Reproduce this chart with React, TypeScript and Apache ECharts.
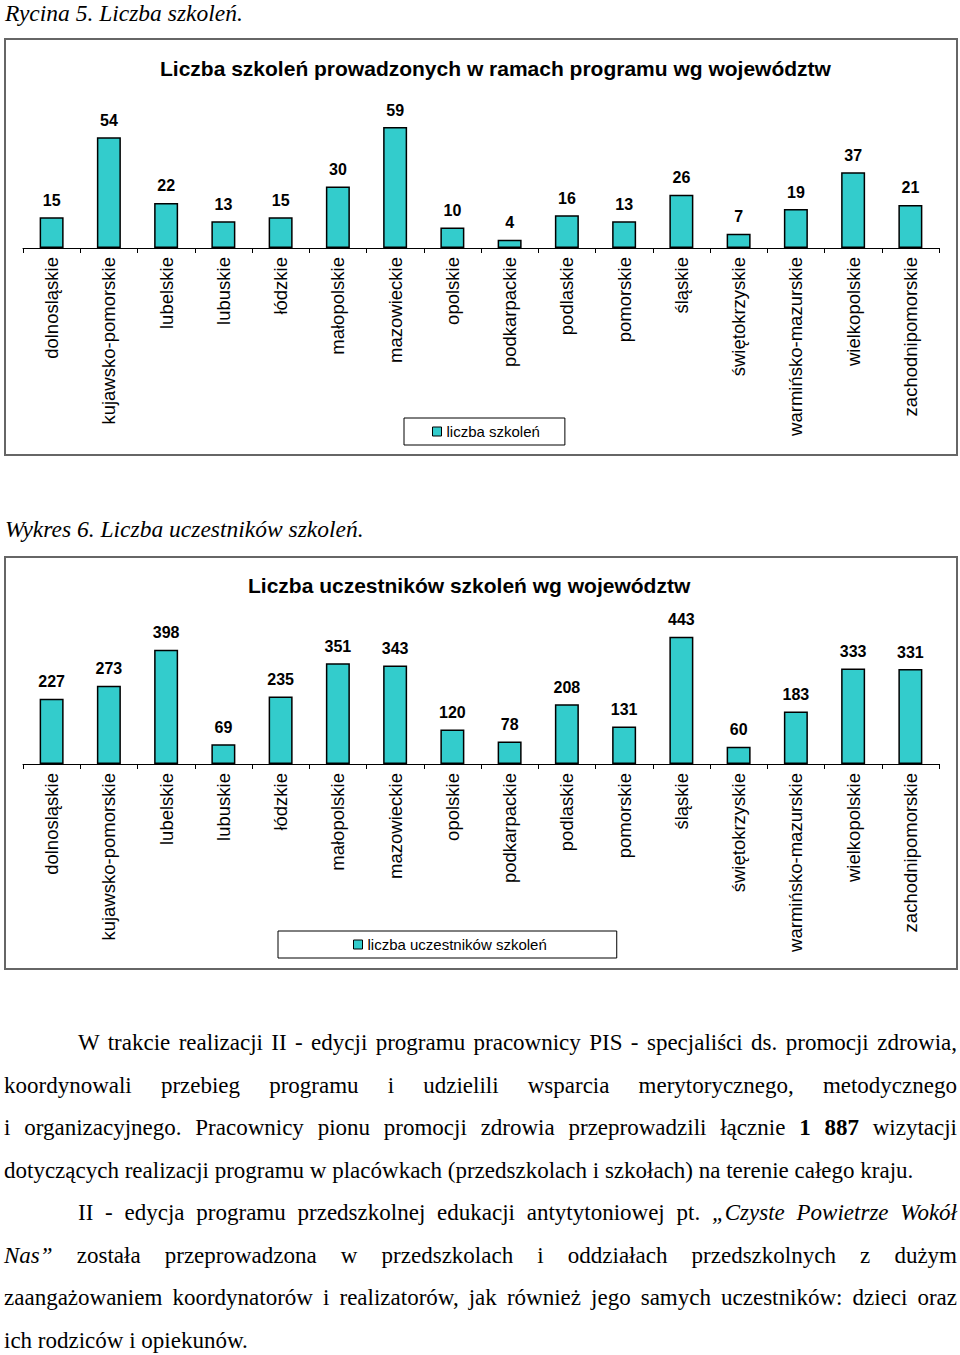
import React, { useEffect, useRef } from "react";
import * as echarts from "echarts";

const regions = [
  "dolnosląskie",
  "kujawsko-pomorskie",
  "lubelskie",
  "lubuskie",
  "łódzkie",
  "małopolskie",
  "mazowieckie",
  "opolskie",
  "podkarpackie",
  "podlaskie",
  "pomorskie",
  "śląskie",
  "świętokrzyskie",
  "warmińsko-mazurskie",
  "wielkopolskie",
  "zachodnipomorskie",
];
const trainings = [15, 54, 22, 13, 15, 30, 59, 10, 4, 16, 13, 26, 7, 19, 37, 21];
const participants = [227, 273, 398, 69, 235, 351, 343, 120, 78, 208, 131, 443, 60, 183, 333, 331];

const title1 = "Liczba szkoleń prowadzonych w ramach programu wg województw";
const title2 = "Liczba uczestników szkoleń wg województw";
const series1 = "liczba szkoleń";
const series2 = "liczba uczestników szkoleń";

const SANS = "'Liberation Sans', Arial, sans-serif";
const SERIF = "'Liberation Serif', 'Times New Roman', serif";

type ChartProps = {
  top: number;
  height: number;
  title: string;
  titleLeft: number;
  titleTop: number;
  name: string;
  data: number[];
  max: number;
  gridTop: number;
  legendLeft: number;
  legendTop: number;
  legendPadding: number[];
};

function BarChart(p: ChartProps) {
  const ref = useRef<HTMLDivElement>(null);
  useEffect(() => {
    if (!ref.current) return;
    const chart = echarts.init(ref.current, undefined, { renderer: "svg" });
    chart.setOption({
      animation: false,
      backgroundColor: "#fff",
      textStyle: { fontFamily: SANS },
      title: {
        text: p.title,
        left: p.titleLeft,
        top: p.titleTop,
        padding: 0,
        textStyle: { fontSize: 21, fontWeight: "bold", color: "#000", fontFamily: SANS },
      },
      legend: {
        data: [p.name],
        left: p.legendLeft,
        top: p.legendTop,
        icon: "rect",
        itemWidth: 9,
        itemHeight: 9,
        padding: p.legendPadding,
        borderColor: "#000",
        borderWidth: 1,
        backgroundColor: "#fff",
        selectedMode: false,
        itemStyle: { borderColor: "#000", borderWidth: 1 },
        textStyle: { fontSize: 15, color: "#000", fontFamily: SANS },
      },
      grid: { left: 20, top: p.gridTop, width: 916, height: 143.5, outerBoundsMode: "none" },
      xAxis: {
        type: "category",
        data: regions,
        boundaryGap: true,
        axisLine: { lineStyle: { color: "#000", width: 1 } },
        axisTick: { show: true, length: 5, lineStyle: { color: "#000" } },
        axisLabel: {
          interval: 0,
          rotate: 90,
          fontSize: 18.5,
          color: "#000",
          margin: 9,
          fontFamily: SANS,
        },
      },
      yAxis: { type: "value", min: 0, max: p.max, show: false, splitLine: { show: false } },
      series: [
        {
          type: "bar",
          name: p.name,
          data: p.data,
          barWidth: 24,
          itemStyle: { color: "#33CCCC", borderColor: "#000", borderWidth: 1.5 },
          label: {
            show: true,
            position: "top",
            distance: 9,
            fontSize: 16,
            fontWeight: "bold",
            color: "#000",
            fontFamily: SANS,
          },
        },
      ],
      graphic: [
        {
          type: "rect",
          silent: true,
          z: 100,
          shape: { x: 2, y: 2, width: 952, height: p.height - 5 },
          style: { fill: "none", stroke: "#666", lineWidth: 2 },
        },
      ],
    });
    return () => chart.dispose();
  }, []);
  return (
    <div
      ref={ref}
      style={{ position: "absolute", left: 3, top: p.top, width: 956, height: p.height }}
    />
  );
}

const FS = 23;
const LH = 42.5;
const PAR_TOP = 1022;

function Line(props: { i: number; indent?: boolean; last?: boolean; children: React.ReactNode }) {
  return (
    <div
      style={{
        position: "absolute",
        left: 4,
        width: 953,
        top: PAR_TOP + props.i * LH,
        height: LH,
        lineHeight: LH + "px",
        fontSize: FS,
        fontFamily: SERIF,
        color: "#000",
        whiteSpace: "nowrap",
        boxSizing: "border-box",
        paddingLeft: props.indent ? 74 : 0,
        textAlign: props.last ? "left" : "justify",
        textAlignLast: props.last ? "left" : "justify",
      }}
    >
      {props.children}
    </div>
  );
}

const captionStyle: React.CSSProperties = {
  position: "absolute",
  left: 5,
  fontFamily: SERIF,
  fontStyle: "italic",
  fontSize: 23.5,
  lineHeight: "26px",
  whiteSpace: "nowrap",
  color: "#000",
};

export default function App() {
  return (
    <div
      style={{
        position: "absolute",
        left: 0,
        top: 0,
        width: 960,
        height: 1355,
        background: "#fff",
        overflow: "hidden",
      }}
    >
      <div style={{ ...captionStyle, top: 0 }}>Rycina 5. Liczba szkoleń.</div>
      <BarChart
        top={37}
        height={421}
        title={title1}
        titleLeft={157}
        titleTop={21}
        name={series1}
        data={trainings}
        max={70}
        gridTop={67.5}
        legendLeft={401}
        legendTop={381}
        legendPadding={[6, 25, 6, 28]}
      />
      <div style={{ ...captionStyle, top: 516 }}>Wykres 6. Liczba uczestników szkoleń.</div>
      <BarChart
        top={555}
        height={417}
        title={title2}
        titleLeft={245}
        titleTop={20}
        name={series2}
        data={participants}
        max={500}
        gridTop={65.5}
        legendLeft={275}
        legendTop={376}
        legendPadding={[6, 70, 6, 75]}
      />
      <Line i={0} indent>
        W trakcie realizacji II - edycji programu pracownicy PIS - specjaliści ds. promocji zdrowia,
      </Line>
      <Line i={1}>
        koordynowali przebieg programu i udzielili wsparcia merytorycznego, metodycznego
      </Line>
      <Line i={2}>
        i organizacyjnego. Pracownicy pionu promocji zdrowia przeprowadzili łącznie <b>1 887</b> wizytacji
      </Line>
      <Line i={3} last>
        dotyczących realizacji programu w placówkach (przedszkolach i szkołach) na terenie całego kraju.
      </Line>
      <Line i={4} indent>
        II - edycja programu przedszkolnej edukacji antytytoniowej pt. <i>„Czyste Powietrze Wokół</i>
      </Line>
      <Line i={5}>
        <i>Nas”</i> została przeprowadzona w przedszkolach i oddziałach przedszkolnych z dużym
      </Line>
      <Line i={6}>
        zaangażowaniem koordynatorów i realizatorów, jak również jego samych uczestników: dzieci oraz
      </Line>
      <Line i={7} last>
        ich rodziców i opiekunów.
      </Line>
    </div>
  );
}
